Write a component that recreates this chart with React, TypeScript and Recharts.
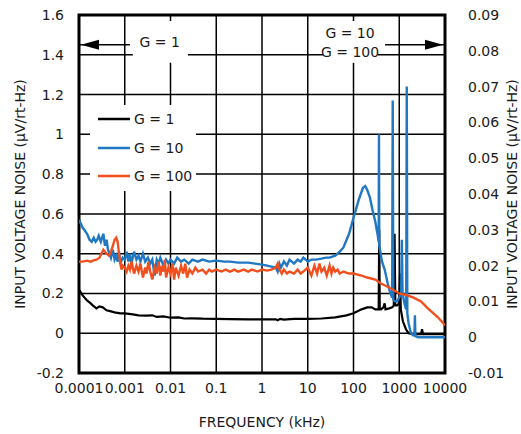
import React from "react";
import {
  ComposedChart,
  Line,
  XAxis,
  YAxis,
  CartesianGrid,
  Legend,
  ReferenceArea,
  ReferenceLine,
  ReferenceDot,
} from "recharts";

const FONT = "'DejaVu Sans', 'Open Sans', sans-serif";
const TEXT = "#1a1a1a";
const FS = 14;

// x ticks (kHz), decades
const freqTicks = [0.0001, 0.001, 0.01, 0.1, 1, 10, 100, 1000, 10000];
const leftTicks = [-0.2, 0, 0.2, 0.4, 0.6, 0.8, 1, 1.2, 1.4, 1.6];
const rightTicks = [-0.01, 0, 0.01, 0.02, 0.03, 0.04, 0.05, 0.06, 0.07, 0.08, 0.09];

// G = 1
const g1Freq = [
  0.0001, 0.00012, 0.00015, 0.00018, 0.0002, 0.00024, 0.00028, 0.00033, 0.0004, 0.0005,
  0.0006, 0.0008, 0.001, 0.0015, 0.002, 0.003, 0.004, 0.005, 0.007, 0.01,
  0.015, 0.02, 0.03, 0.05, 0.1, 0.2, 0.5, 1, 2, 2.2,
  2.5, 3, 5, 10, 20, 40, 70, 100, 150, 200,
  250, 300, 340, 355, 365, 375, 400, 450, 480, 500,
  600, 700, 760, 790, 820, 900, 1000, 1040, 1080, 1200,
  1400, 1600, 2000, 3000, 3150, 3300, 5000, 10000,
];
const g1Noise = [
  0.22, 0.19, 0.165, 0.15, 0.14, 0.125, 0.135, 0.13, 0.115, 0.11,
  0.105, 0.1, 0.1, 0.095, 0.09, 0.088, 0.09, 0.082, 0.085, 0.078,
  0.08, 0.074, 0.075, 0.073, 0.072, 0.071, 0.07, 0.07, 0.07, 0.065,
  0.072, 0.068, 0.072, 0.072, 0.074, 0.08, 0.09, 0.1, 0.12, 0.13,
  0.13, 0.12, 0.12, 0.12, 0.52, 0.12, 0.12, 0.13, 0.15, 0.12,
  0.125, 0.13, 0.14, 0.5, 0.14, 0.14, 0.15, 0.3, 0.12, 0.06,
  0.02, 0.0, -0.005, -0.005, 0.02, -0.005, -0.005, -0.005,
];

// G = 10
const g10Freq = [
  0.0001, 0.00011, 0.00012, 0.00013, 0.00015, 0.00017, 0.00019, 0.00021, 0.00023, 0.00025,
  0.00027, 0.0003, 0.00032, 0.00034, 0.00037, 0.0004, 0.00043, 0.00047, 0.0005, 0.00055,
  0.0006, 0.00065, 0.0007, 0.00075, 0.0008, 0.0009, 0.001, 0.0011, 0.0012, 0.0013,
  0.0014, 0.0016, 0.0018, 0.002, 0.0022, 0.0025, 0.0028, 0.0032, 0.0036, 0.004,
  0.0045, 0.005, 0.0055, 0.006, 0.007, 0.008, 0.009, 0.01, 0.012, 0.014,
  0.017, 0.02, 0.025, 0.03, 0.04, 0.05, 0.07, 0.1, 0.15, 0.2,
  0.3, 0.5, 0.7, 1, 1.3, 1.6, 2, 2.2, 2.4, 2.6,
  3, 3.5, 4, 5, 6, 7, 8, 10, 12, 15,
  20, 25, 30, 40, 50, 60, 80, 100, 130, 160,
  180, 200, 230, 260, 300, 340, 355, 360, 366, 420,
  480, 560, 640, 700, 720, 740, 800, 900, 1000, 1100,
  1140, 1180, 1300, 1420, 1460, 1500, 1600, 1800, 2000, 2150,
  2200, 2250, 2600, 3000, 5000, 10000,
];
const g10Noise = [
  0.57, 0.55, 0.53, 0.52, 0.5, 0.47, 0.46, 0.48, 0.46, 0.47,
  0.49, 0.46, 0.48, 0.5, 0.44, 0.47, 0.42, 0.4, 0.38, 0.42,
  0.37, 0.39, 0.36, 0.41, 0.35, 0.38, 0.37, 0.41, 0.36, 0.4,
  0.35, 0.41, 0.37, 0.39, 0.36, 0.4, 0.36, 0.38, 0.35, 0.37,
  0.29, 0.37, 0.35, 0.38, 0.34, 0.37, 0.35, 0.37, 0.35, 0.38,
  0.36, 0.37, 0.35, 0.37, 0.36, 0.37, 0.36, 0.365, 0.36, 0.36,
  0.355, 0.355, 0.35, 0.345, 0.34, 0.335, 0.33, 0.31, 0.35, 0.33,
  0.36, 0.34, 0.37, 0.35, 0.37, 0.36, 0.38, 0.36, 0.37, 0.37,
  0.375, 0.38, 0.38, 0.39, 0.41, 0.43, 0.5, 0.58, 0.67, 0.73,
  0.74, 0.72, 0.68, 0.62, 0.56, 0.49, 0.46, 1.0, 0.44, 0.36,
  0.32, 0.25, 0.2, 0.18, 1.17, 0.17, 0.16, 0.16, 0.18, 0.2,
  0.47, 0.2, 0.15, 0.12, 1.24, 0.1, 0.05, 0.0, -0.01, -0.01,
  0.09, -0.015, -0.02, -0.02, -0.02, -0.02,
];

// G = 100
const g100Freq = [
  0.0001, 0.00012, 0.00015, 0.00018, 0.0002, 0.00024, 0.00028, 0.00031, 0.00034, 0.00037,
  0.0004, 0.00045, 0.0005, 0.00055, 0.0006, 0.00065, 0.0007, 0.00075, 0.0008, 0.00085,
  0.0009, 0.001, 0.0011, 0.0012, 0.0013, 0.0014, 0.0016, 0.0018, 0.002, 0.0022,
  0.0025, 0.0028, 0.003, 0.0033, 0.0036, 0.004, 0.0045, 0.005, 0.0055, 0.006,
  0.0065, 0.007, 0.0075, 0.008, 0.009, 0.01, 0.011, 0.012, 0.013, 0.015,
  0.017, 0.019, 0.021, 0.023, 0.026, 0.03, 0.035, 0.04, 0.05, 0.06,
  0.07, 0.08, 0.1, 0.13, 0.16, 0.2, 0.25, 0.3, 0.4, 0.5,
  0.6, 0.8, 1, 1.3, 1.6, 2, 2.2, 2.4, 2.7, 3,
  3.5, 4, 5, 6, 7, 8, 10, 12, 14, 16,
  18, 20, 23, 26, 30, 33, 36, 40, 45, 50,
  60, 80, 100, 150, 200, 300, 400, 600, 1000, 1500,
  2000, 3000, 4000, 5000, 7000, 10000,
];
const g100Noise = [
  0.36, 0.36, 0.365, 0.36, 0.365, 0.37, 0.38, 0.4, 0.42, 0.41,
  0.4, 0.39, 0.41, 0.44, 0.47, 0.48, 0.46, 0.4, 0.35, 0.32,
  0.34, 0.33, 0.31, 0.34, 0.32, 0.36, 0.3, 0.34, 0.31, 0.35,
  0.28, 0.33, 0.3, 0.36, 0.31, 0.27, 0.33, 0.3, 0.36, 0.29,
  0.34, 0.31, 0.37, 0.28, 0.33, 0.3, 0.35, 0.27, 0.33, 0.29,
  0.34, 0.3, 0.35, 0.28, 0.32, 0.3, 0.33, 0.31, 0.32, 0.3,
  0.32, 0.31, 0.32, 0.31, 0.32, 0.31, 0.32, 0.31, 0.32, 0.31,
  0.32, 0.31, 0.32, 0.315, 0.32, 0.33, 0.35, 0.32, 0.3, 0.32,
  0.3, 0.31, 0.3, 0.32, 0.3, 0.31, 0.33, 0.29, 0.34, 0.3,
  0.35, 0.31, 0.33, 0.29, 0.34, 0.3, 0.33, 0.31, 0.32, 0.3,
  0.31, 0.3, 0.3, 0.29, 0.28, 0.27, 0.25, 0.23, 0.2, 0.19,
  0.18, 0.16, 0.13, 0.11, 0.08, 0.04,
];

const toRows = (freq: number[], noise: number[]) =>
  freq.map((f, i) => ({ freq: f, noise: noise[i] }));

const g1Data = toRows(g1Freq, g1Noise);
const g10Data = toRows(g10Freq, g10Noise);
const g100Data = toRows(g100Freq, g100Noise);

const fmtLeft = (v: number) => String(Number(v.toFixed(1)));
const fmtRight = (v: number) => String(Number(v.toFixed(2)));

function AxisTitle({ viewBox, value, dx }: any) {
  const cx = viewBox.x + dx;
  const cy = viewBox.y + viewBox.height / 2;
  return (
    <text
      x={cx}
      y={cy}
      transform={`rotate(-90, ${cx}, ${cy})`}
      textAnchor="middle"
      dominantBaseline="central"
      fill={TEXT}
      fontSize={FS}
      fontFamily={FONT}
    >
      {value}
    </text>
  );
}

const textShape = (label: string) => (p: any) => (
  <text
    x={p.cx}
    y={p.cy}
    textAnchor="middle"
    dominantBaseline="central"
    fill={TEXT}
    fontSize={FS}
    fontFamily={FONT}
  >
    {label}
  </text>
);

const arrowHead = (dir: number) => (p: any) => {
  const tip = p.cx + dir * 2;
  const back = tip + dir * 18;
  return (
    <polygon
      points={`${tip},${p.cy} ${back},${p.cy - 5} ${back},${p.cy + 5}`}
      fill="#000"
    />
  );
};

const renderLegend = (props: any) => (
  <div style={{ background: "#fff", width: 106 }}>
    {props.payload.map((entry: any) => (
      <div
        key={entry.value}
        style={{ display: "flex", alignItems: "center", height: 28.5, whiteSpace: "nowrap" }}
      >
        <svg width={44} height={4} style={{ display: "block", flex: "none" }}>
          <line x1={8} x2={40} y1={2} y2={2} stroke={entry.color} strokeWidth={2.5} />
        </svg>
        <span style={{ fontSize: FS, fontFamily: FONT, color: TEXT, lineHeight: "16px" }}>
          {entry.value}
        </span>
      </div>
    ))}
  </div>
);

export default function App() {
  return (
    <div style={{ position: "absolute", left: 0, top: 0, background: "#fff" }}>
      <ComposedChart
        width={521}
        height={434}
        margin={{ top: 15, right: 0, bottom: 0, left: 0 }}
      >
        <CartesianGrid stroke="#000" strokeWidth={1.5} strokeOpacity={1} />
        <XAxis
          dataKey="freq"
          type="number"
          scale="log"
          domain={[0.0001, 10000]}
          ticks={freqTicks}
          allowDataOverflow
          height={61}
          tickSize={0}
          tickMargin={10}
          axisLine={false}
          tick={{ fill: TEXT, fontSize: FS, fontFamily: FONT }}
          tickFormatter={(v: number) => String(v)}
          label={{
            value: "FREQUENCY (kHz)",
            position: "insideBottom",
            offset: 7,
            fill: TEXT,
            fontSize: FS,
            fontFamily: FONT,
          }}
        />
        <YAxis
          type="number"
          domain={[-0.2, 1.6]}
          ticks={leftTicks}
          allowDataOverflow
          width={79}
          tickSize={0}
          tickMargin={15}
          axisLine={false}
          tick={{ fill: TEXT, fontSize: FS, fontFamily: FONT }}
          tickFormatter={fmtLeft}
          label={<AxisTitle value="INPUT VOLTAGE NOISE (µV/rt-Hz)" dx={20} />}
        />
        <YAxis
          yAxisId="right"
          orientation="right"
          type="number"
          domain={[-0.01, 0.09]}
          ticks={rightTicks}
          allowDataOverflow
          width={76}
          tickSize={0}
          tickMargin={23}
          axisLine={false}
          tick={{ fill: TEXT, fontSize: FS, fontFamily: FONT, textAnchor: "start" }}
          tickFormatter={fmtRight}
          label={<AxisTitle value="INPUT VOLTAGE NOISE (µV/rt-Hz)" dx={67} />}
        />

        {/* white boxes behind the in-plot annotations */}
        <ReferenceArea x1={0.0015} x2={0.024} y1={1.36} y2={1.57} fill="#fff" fillOpacity={1} stroke="none" />
        <ReferenceArea x1={21.5} x2={343} y1={1.36} y2={1.57} fill="#fff" fillOpacity={1} stroke="none" />

        <Line data={g1Data} dataKey="noise" name="G = 1" stroke="#000000" strokeWidth={2.2} dot={false} isAnimationActive={false} />
        <Line data={g10Data} dataKey="noise" name="G = 10" stroke="#1f78c1" strokeWidth={2.4} dot={false} isAnimationActive={false} />
        <Line data={g100Data} dataKey="noise" name="G = 100" stroke="#f1501e" strokeWidth={2.4} dot={false} isAnimationActive={false} />

        {/* plot frame */}
        <ReferenceArea x1={0.0001} x2={10000} y1={-0.2} y2={1.6} fill="none" fillOpacity={0} stroke="#000" strokeWidth={3} />

        {/* gain range arrows */}
        <ReferenceLine segment={[{ x: 0.0001, y: 1.45 }, { x: 0.0013, y: 1.45 }]} stroke="#000" strokeWidth={1.5} />
        <ReferenceLine segment={[{ x: 490, y: 1.45 }, { x: 10000, y: 1.45 }]} stroke="#000" strokeWidth={1.5} />
        <ReferenceDot x={0.0001} y={1.45} shape={arrowHead(1)} />
        <ReferenceDot x={10000} y={1.45} shape={arrowHead(-1)} />
        <ReferenceDot x={0.0058} y={1.465} shape={textShape("G = 1")} />
        <ReferenceDot x={84} y={1.51} shape={textShape("G = 10")} />
        <ReferenceDot x={84} y={1.415} shape={textShape("G = 100")} />

        <Legend
          layout="vertical"
          align="center"
          verticalAlign="middle"
          content={renderLegend}
          wrapperStyle={{ left: 90, top: 105, width: 106 }}
        />
      </ComposedChart>
    </div>
  );
}
